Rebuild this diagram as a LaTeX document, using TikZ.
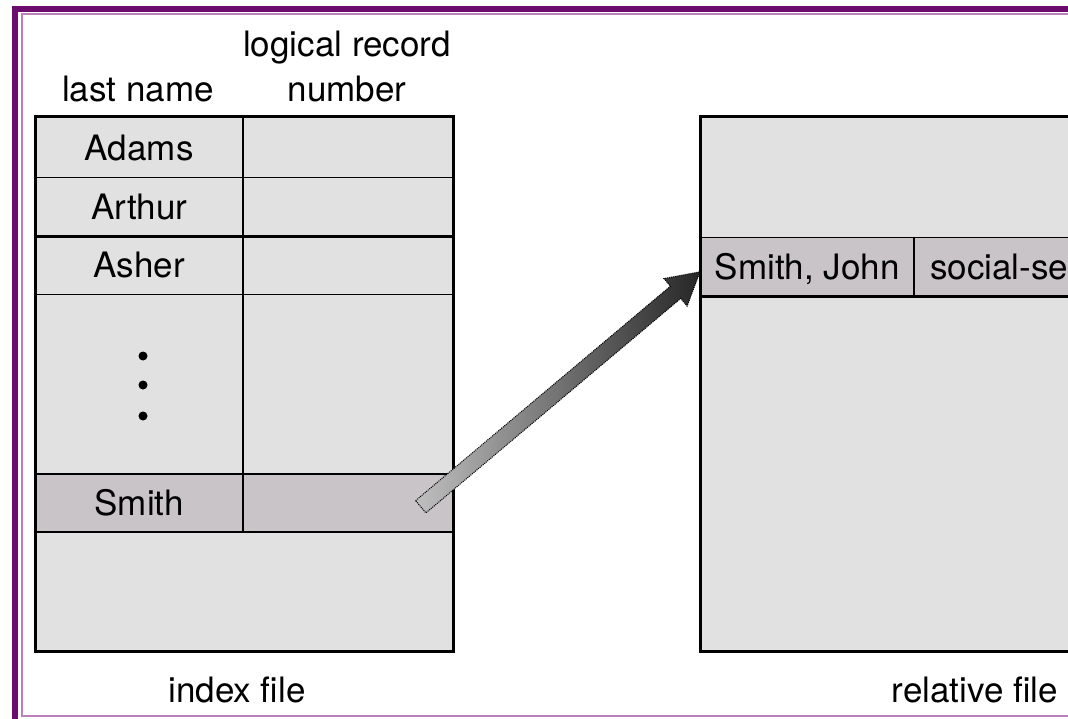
\documentclass[tikz,border=0pt]{standalone}
\usepackage{fontspec}
\setmainfont{TeX Gyre Heros}
\usetikzlibrary{calc}
\definecolor{cellgray}{RGB}{225,225,225}
\definecolor{keygray}{RGB}{200,196,200}
\definecolor{framedark}{RGB}{108,12,108}
\definecolor{framelight}{RGB}{186,128,186}
\tikzset{
  txt/.style={font=\fontsize{35}{40}\selectfont,inner sep=0pt,text height=25pt,text depth=0pt},
  cell/.style={txt,draw=black,line width=1.5pt,fill=cellgray,anchor=north west},
  keycell/.style={cell,fill=keygray},
  tblframe/.style={draw=black,line width=3pt},
  arrowbody/.style={left color=black!25,right color=black!85,draw=black,densely dotted,line width=1pt},
}
\begin{document}
\begin{tikzpicture}[x=1pt,y=-1pt]
  \useasboundingbox (0,0) rectangle (1068,719);
  \clip (0,0) rectangle (1068,719);
  % page frame
  \draw[framedark,line width=6pt] (15,740) -- (15,9) -- (1100,9);
  \draw[framelight,line width=2pt] (1100,14.5) -- (21.5,14.5) -- (21.5,716) -- (1100,716);
  % index file: column headings
  \node[txt] (hname) at (138,89) {last name};
  \node[txt] (hnum1) at (347,44) {logical record};
  \node[txt] (hnum2) at (347,89) {number};
  % index file: rows
  \node[cell,minimum width=207,minimum height=60] (adams) at (35,117) {Adams};
  \node[cell,minimum width=210,minimum height=60] (adamsno) at (242,117) {};
  \node[cell,minimum width=207,minimum height=58] (arthur) at (35,177) {Arthur};
  \node[cell,minimum width=210,minimum height=58] (arthurno) at (242,177) {};
  \node[cell,minimum width=207,minimum height=59] (asher) at (35,235) {Asher};
  \node[cell,minimum width=210,minimum height=59] (asherno) at (242,235) {};
  \node[cell,minimum width=207,minimum height=179] (gap) at (35,294) {};
  \node[cell,minimum width=210,minimum height=179] (gapno) at (242,294) {};
  \node[keycell,minimum width=207,minimum height=58] (smith) at (35,473) {Smith};
  \node[keycell,minimum width=210,minimum height=58] (smithno) at (242,473) {};
  \node[cell,minimum width=417,minimum height=119] (rest) at (35,531) {};
  \foreach \y in {356,385,416}{
    \fill (143,\y) circle (4.5);}
  \draw[tblframe] (arthur.south west) -- (arthurno.south east);
  \draw[tblframe] (adams.north west) rectangle (rest.south east);
  \node[txt] (idxlbl) at (237,690) {index file};
  % relative file
  \node[cell,minimum width=400,minimum height=120] (relhead) at (700,117) {};
  \node[keycell,minimum width=213,minimum height=58] (smithjohn) at (700,237) {Smith, John};
  \node[keycell,minimum width=187,minimum height=58] (ssn) at (913,237) {};
  \node[txt,anchor=west] (ssntxt) at ($(ssn.west)+(17,0)$) {social-se};
  \node[cell,minimum width=400,minimum height=355] (reltail) at (700,295) {};
  \draw[tblframe] (smithjohn.south west) -- (ssn.south east);
  \draw[tblframe] (relhead.north west) rectangle (reltail.south east);
  \node[txt] (rellbl) at (975,690) {relative file};
  % pointer from the index entry to the record
  \coordinate (tail) at ($(smithno.center)+(73,4)$);
  \coordinate (tip) at ($(smithjohn.west)+(0,5)$);
  \coordinate (neck) at ($(tip)!32pt!(tail)$);
  \path[arrowbody] ($(tail)!8pt!90:(tip)$) -- ($(neck)!8pt!90:(tip)$)
    -- ($(neck)!18pt!90:(tip)$) -- (tip) -- ($(neck)!18pt!-90:(tip)$)
    -- ($(neck)!8pt!-90:(tip)$) -- ($(tail)!8pt!-90:(tip)$) -- cycle;
\end{tikzpicture}
\end{document}
